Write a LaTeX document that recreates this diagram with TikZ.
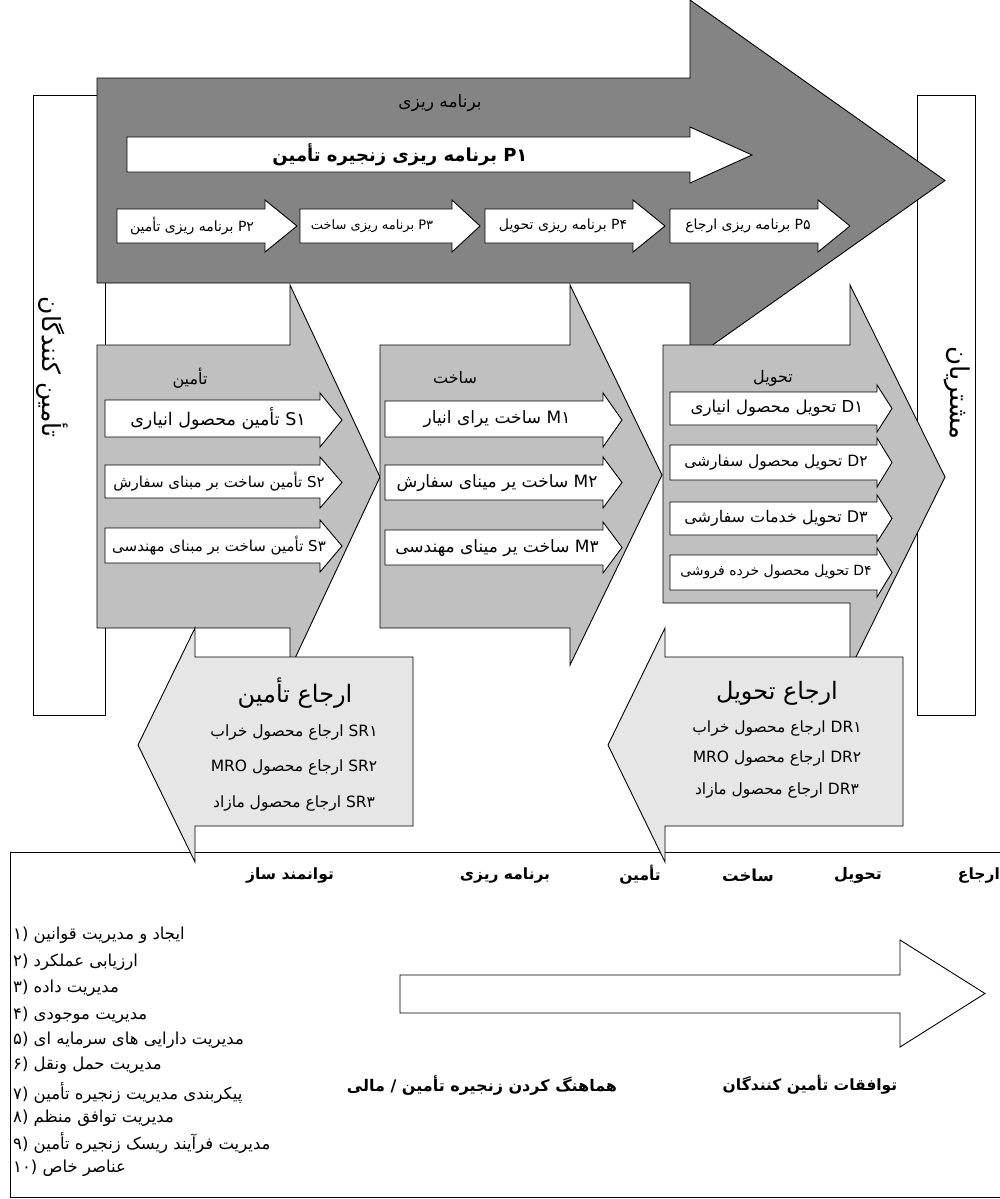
\documentclass[tikz,border=0pt]{standalone}
\usepackage{fontspec}
\TeXXeTstate=1
\newfontfamily\fa[Script=Arabic]{DejaVu Sans}
\newfontfamily\lat{DejaVu Sans}
\definecolor{darkG}{RGB}{132,132,132}
\definecolor{midG}{RGB}{192,192,192}
\definecolor{liteG}{RGB}{230,230,230}
% right-pointing block arrow: style, xleft, xneck, xtip, bodytop, bodybottom, headtop, headbottom
\newcommand{\blockR}[8]{\path[#1] (#2,#5) -- (#3,#5) -- (#3,#7) -- (#4,{(#7+#8)/2}) -- (#3,#8) -- (#3,#6) -- (#2,#6) -- cycle;}
% left-pointing block arrow: style, xright, xneck, xtip, bodytop, bodybottom, headtop, headbottom
\newcommand{\blockL}[8]{\path[#1] (#2,#5) -- (#3,#5) -- (#3,#7) -- (#4,{(#7+#8)/2}) -- (#3,#8) -- (#3,#6) -- (#2,#6) -- cycle;}
\newcommand{\lr}[1]{\beginL{\lat #1}\endL}
\tikzset{
  shp/.style={draw=black, line width=0.9pt, line join=miter},
  fat/.style={font=\fa\fontsize{#1}{#1}\selectfont, inner sep=0pt},
  fab/.style={font=\fa\bfseries\fontsize{#1}{#1}\selectfont, inner sep=0pt},
}
\begin{document}
\begin{tikzpicture}[x=1pt,y=-1pt]
\useasboundingbox (0,0) rectangle (1000,1199);
\fill[white] (0,0) rectangle (1000,1199);
% side boxes
\draw[shp, fill=white] (33,95) rectangle (105,715);
\draw[shp, fill=white] (917,95) rectangle (975,715);
\node[fat=25, rotate=-90] (supp) at (52,367) {\beginR تأمین کنندگان\endR};
\node[fat=26, rotate=-90] (cust) at (957,393) {\beginR مشتریان\endR};
% bottom enabler box
\draw[shp, fill=white] (10,852) rectangle (1010,1197);
% planning arrow
\blockR{shp, fill=darkG}{97}{690}{945}{78}{283}{0}{361}
\node[fat=17] (plan) at (440,103) {\beginR برنامه ریزی\endR};
\blockR{shp, fill=white}{127}{690}{752}{137}{172}{127}{183}
\node[fab=18] (p1) at (400,155) {\beginR\lr{P۱}{} برنامه ریزی زنجیره تأمین\endR};
\blockR{shp, fill=white}{117}{265}{297}{209}{243}{200}{252}
\blockR{shp, fill=white}{300}{452}{480}{209}{243}{200}{252}
\blockR{shp, fill=white}{485}{633}{665}{209}{243}{200}{252}
\blockR{shp, fill=white}{670}{818}{850}{209}{243}{200}{252}
\node[fat=14] (p2) at (192,226) {\beginR\lr{P۲}{} برنامه ریزی تأمین\endR};
\node[fat=13] (p3) at (372,226) {\beginR\lr{P۳}{} برنامه ریزی ساخت\endR};
\node[fat=14] (p4) at (563,226) {\beginR\lr{P۴}{} برنامه ریزی تحویل\endR};
\node[fat=14] (p5) at (748,226) {\beginR\lr{P۵}{} برنامه ریزی ارجاع\endR};
% source block
\blockR{shp, fill=midG}{97}{290}{380}{345}{628}{285}{669}
\node[fat=16] (src) at (190,378) {\beginR تأمین\endR};
\blockR{shp, fill=white}{105}{320}{342}{400}{437}{393}{447}
\blockR{shp, fill=white}{105}{320}{342}{465}{498}{457}{508}
\blockR{shp, fill=white}{105}{320}{342}{528}{563}{520}{572}
\node[fat=17.5] (s1) at (218,419) {\beginR\lr{S۱}{} تأمین محصول انیاری\endR};
\node[fat=15] (s2) at (219,482) {\beginR\lr{S۲}{} تأمین ساخت بر مبنای سفارش\endR};
\node[fat=15] (s3) at (219,546) {\beginR\lr{S۳}{} تأمین ساخت بر مبنای مهندسی\endR};
% make block
\blockR{shp, fill=midG}{380}{570}{662}{345}{628}{285}{665}
\node[fat=16] (mk) at (455,378) {\beginR ساخت\endR};
\blockR{shp, fill=white}{385}{603}{622}{401}{437}{393}{447}
\blockR{shp, fill=white}{385}{603}{622}{465}{500}{457}{508}
\blockR{shp, fill=white}{385}{603}{622}{530}{565}{522}{573}
\node[fat=17] (m1) at (497,419) {\beginR\lr{M۱}{} ساخت یرای انیار\endR};
\node[fat=17] (m2) at (497,483) {\beginR\lr{M۲}{} ساخت یر مینای سفارش\endR};
\node[fat=17] (m3) at (497,548) {\beginR\lr{M۳}{} ساخت یر مینای مهندسی\endR};
% deliver block
\blockR{shp, fill=midG}{663}{850}{945}{345}{603}{285}{669}
\node[fat=16] (dl) at (773,378) {\beginR تحویل\endR};
\blockR{shp, fill=white}{670}{877}{892}{392}{425}{385}{432}
\blockR{shp, fill=white}{670}{877}{892}{445}{480}{438}{487}
\blockR{shp, fill=white}{670}{877}{892}{502}{535}{495}{542}
\blockR{shp, fill=white}{670}{877}{892}{555}{590}{548}{597}
\node[fat=16.5] (d1) at (777,408) {\beginR\lr{D۱}{} تحویل محصول انیاری\endR};
\node[fat=15.5] (d2) at (776,462) {\beginR\lr{D۲}{} تحویل محصول سفارشی\endR};
\node[fat=16] (d3) at (776,518) {\beginR\lr{D۳}{} تحویل خدمات سفارشی\endR};
\node[fat=14] (d4) at (776,572) {\beginR\lr{D۴}{} تحویل محصول خرده فروشی\endR};
% return arrows
\blockL{shp, fill=liteG}{413}{195}{138}{657}{826}{628}{862}
\node[fat=24] (sr) at (295,693) {\beginR ارجاع تأمین\endR};
\node[fat=15.5] (sr1) at (294,732) {\beginR\lr{SR۱}{} ارجاع محصول خراب\endR};
\node[fat=15.5] (sr2) at (294,767) {\beginR\lr{SR۲}{} ارجاع محصول \lr{MRO}\endR};
\node[fat=15.5] (sr3) at (294,803) {\beginR\lr{SR۳}{} ارجاع محصول مازاد\endR};
\blockL{shp, fill=liteG}{903}{665}{608}{657}{826}{628}{862}
\node[fat=24] (dr) at (777,693) {\beginR ارجاع تحویل\endR};
\node[fat=15.5] (dr1) at (777,728) {\beginR\lr{DR۱}{} ارجاع محصول خراب\endR};
\node[fat=15.5] (dr2) at (777,758) {\beginR\lr{DR۲}{} ارجاع محصول \lr{MRO}\endR};
\node[fat=15.5] (dr3) at (777,790) {\beginR\lr{DR۳}{} ارجاع محصول مازاد\endR};
% enabler headers
\node[fab=15.5] (h1) at (290,875) {\beginR توانمند ساز\endR};
\node[fab=15.5] (h2) at (505,875) {\beginR برنامه ریزی\endR};
\node[fab=15.5] (h3) at (640,875) {\beginR تأمین\endR};
\node[fab=16.5] (h4) at (748,875) {\beginR ساخت\endR};
\node[fab=16] (h5) at (858,875) {\beginR تحویل\endR};
\node[fab=15.5, anchor=east] (h6) at (1000,875) {\beginR ارجاع\endR};
% enabler list
\node[fat=16.5, anchor=west] (e1) at (13,935) {{\lat ۱)} \beginR ایجاد و مدیریت قوانین\endR};
\node[fat=16.5, anchor=west] (e2) at (13,962) {{\lat ۲)} \beginR ارزیابی عملکرد\endR};
\node[fat=16.5, anchor=west] (e3) at (13,988) {{\lat ۳)} \beginR مدیریت داده\endR};
\node[fat=16.5, anchor=west] (e4) at (13,1015) {{\lat ۴)} \beginR مدیریت موجودی\endR};
\node[fat=16.5, anchor=west] (e5) at (13,1040) {{\lat ۵)} \beginR مدیریت دارایی های سرمایه ای\endR};
\node[fat=16.5, anchor=west] (e6) at (13,1065) {{\lat ۶)} \beginR مدیریت حمل ونقل\endR};
\node[fat=16.5, anchor=west] (e7) at (13,1093) {{\lat ۷)} \beginR پیکربندی مدیریت زنجیره تأمین\endR};
\node[fat=16.5, anchor=west] (e8) at (13,1118) {{\lat ۸)} \beginR مدیریت توافق منظم\endR};
\node[fat=16.5, anchor=west] (e9) at (13,1143) {{\lat ۹)} \beginR مدیریت فرآیند ریسک زنجیره تأمین\endR};
\node[fat=16.5, anchor=west] (e10) at (13,1168) {{\lat ۱۰)} \beginR عناصر خاص\endR};
% bottom arrow
\blockR{shp, fill=white}{400}{900}{985}{975}{1013}{940}{1047}
\node[fab=16] (b1) at (482,1085) {\beginR هماهنگ کردن زنجیره تأمین / مالی\endR};
\node[fab=15.5] (b2) at (810,1085) {\beginR توافقات تأمین کنندگان\endR};
\end{tikzpicture}
\end{document}
